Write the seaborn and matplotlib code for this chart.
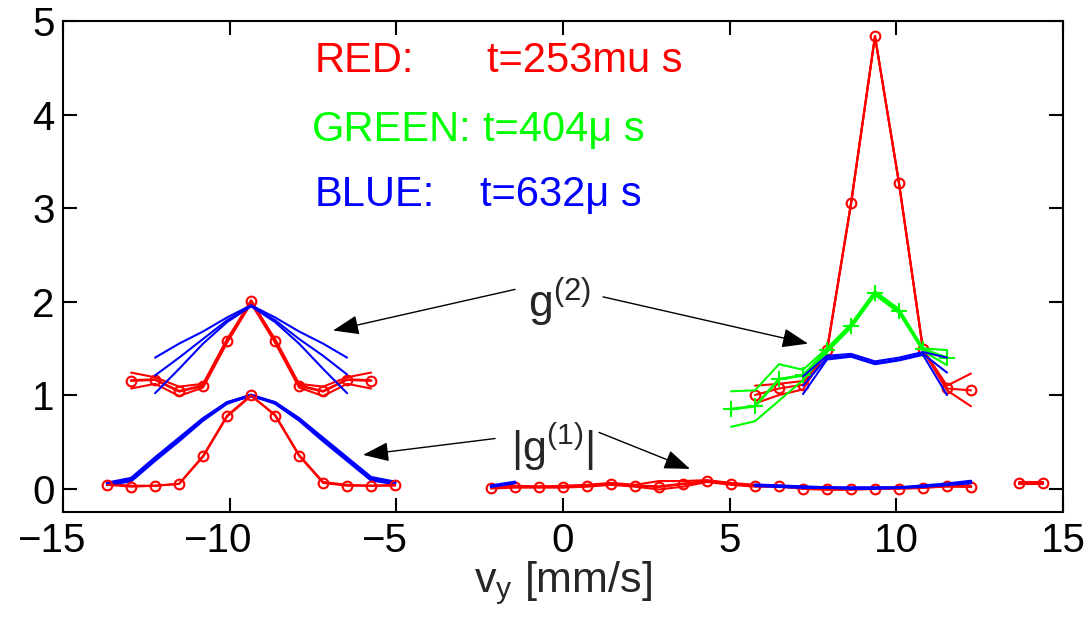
import numpy as np
import pandas as pd
import matplotlib
matplotlib.use("Agg")
import matplotlib.pyplot as plt
import matplotlib.transforms as mtransforms
import seaborn as sns

# ---------------- data ----------------
# left |g1| cluster
x_g1_left = [-13.68, -12.96, -12.24, -11.52, -10.80, -10.08, -9.36, -8.64, -7.92, -7.20, -6.48, -5.76, -5.04]
red_g1_left_a = [0.04, 0.02, 0.03, 0.05, 0.35, 0.78, 1.00, 0.78, 0.35, 0.06, 0.03, 0.03, 0.04]
red_g1_left_b = [0.05, 0.03, 0.03, 0.05, 0.34, 0.77, 0.99, 0.79, 0.36, 0.07, 0.04, 0.03, 0.03]
blue_g1_left_a = [0.04, 0.08, 0.30, 0.51, 0.73, 0.91, 1.00, 0.91, 0.73, 0.51, 0.30, 0.09, 0.05]
blue_g1_left_b = [0.05, 0.09, 0.31, 0.52, 0.74, 0.92, 1.00, 0.92, 0.74, 0.52, 0.31, 0.10, 0.06]
blue_g1_left_c = [0.06, 0.11, 0.33, 0.54, 0.75, 0.92, 0.99, 0.92, 0.75, 0.54, 0.33, 0.12, 0.07]

# left g2 cluster
x_g2_left = [-12.96, -12.24, -11.52, -10.80, -10.08, -9.36, -8.64, -7.92, -7.20, -6.48, -5.76]
red_g2_left_a = [1.155, 1.165, 1.04, 1.10, 1.58, 2.01, 1.58, 1.10, 1.04, 1.165, 1.155]
red_g2_left_b = [1.24, 1.19, 1.09, 1.12, 1.60, 1.99, 1.60, 1.12, 1.09, 1.19, 1.24]
red_g2_left_c = [1.07, 1.12, 0.99, 1.08, 1.56, 1.98, 1.56, 1.08, 0.99, 1.12, 1.07]
x_g2_left_blue = [-12.24, -11.52, -10.80, -10.08, -9.36, -8.64, -7.92, -7.20, -6.48]
blue_g2_left_a = [1.40, 1.55, 1.68, 1.83, 1.96, 1.83, 1.68, 1.55, 1.40]
blue_g2_left_b = [1.21, 1.40, 1.60, 1.80, 1.95, 1.80, 1.60, 1.42, 1.22]
blue_g2_left_c = [1.02, 1.28, 1.55, 1.78, 1.95, 1.78, 1.55, 1.28, 1.02]

# middle / right |g1|
x_g1_mid = [-2.16, -1.44, -0.72, 0.00, 0.72, 1.44, 2.16, 2.88, 3.60, 4.32, 5.04,
            5.76, 6.48, 7.20, 7.92, 8.64, 9.36, 10.08, 10.80, 11.52, 12.24]
red_g1_mid_a = [0.01, 0.02, 0.02, 0.02, 0.03, 0.05, 0.03, 0.02, 0.05, 0.08, 0.05,
                0.03, 0.03, 0.00, -0.01, -0.01, 0.00, 0.00, 0.01, 0.03, 0.02]
red_g1_mid_b = [0.02, 0.03, 0.02, 0.03, 0.04, 0.06, 0.04, 0.08, 0.08, 0.09, 0.06,
                0.04, 0.02, 0.01, 0.00, 0.00, 0.01, 0.01, 0.02, 0.03, 0.03]
red_g1_mid_c = [0.00, 0.01, 0.01, 0.01, 0.02, 0.04, 0.02, -0.01, 0.02, 0.07, 0.04,
                0.02, 0.02, 0.00, 0.00, 0.00, 0.00, 0.01, 0.01, 0.02, 0.02]
x_g1_blue_a = [-2.16, -1.44]
blue_g1_mid_a = [0.02, 0.06]
blue_g1_mid_b = [0.03, 0.07]
x_g1_blue_b = [5.76, 6.48, 7.20, 7.92, 8.64, 9.36, 10.08, 10.80, 11.52, 12.24]
blue_g1_right_a = [0.03, 0.02, 0.01, 0.01, 0.00, 0.00, 0.01, 0.02, 0.04, 0.06]
blue_g1_right_b = [0.04, 0.03, 0.02, 0.01, 0.01, 0.01, 0.01, 0.03, 0.05, 0.08]
x_g1_far = [13.68, 14.40]
red_g1_far_a = [0.06, 0.06]
red_g1_far_b = [0.07, 0.07]
red_g1_far_c = [0.05, 0.05]

# right g2 cluster
x_g2_right_red = [5.76, 6.48, 7.20, 7.92, 8.64, 9.36, 10.08, 10.80, 11.52, 12.24]
red_g2_right_a = [1.00, 1.07, 1.11, 1.48, 3.05, 4.84, 3.27, 1.49, 1.07, 1.05]
red_g2_right_b = [1.10, 1.12, 1.15, 1.48, 3.05, 4.84, 3.27, 1.49, 1.10, 1.23]
red_g2_right_c = [0.91, 1.00, 1.06, 1.47, 3.04, 4.83, 3.26, 1.48, 1.05, 0.88]
x_g2_right_green = [5.04, 5.76, 6.48, 7.20, 7.92, 8.64, 9.36, 10.08, 10.80, 11.52]
green_g2_a = [0.85, 0.88, 1.17, 1.21, 1.48, 1.74, 2.09, 1.90, 1.49, 1.40]
green_g2_b = [1.04, 1.05, 1.33, 1.27, 1.50, 1.76, 2.11, 1.92, 1.50, 1.48]
green_g2_c = [0.66, 0.72, 0.94, 1.16, 1.46, 1.72, 2.07, 1.88, 1.47, 1.32]
x_g2_right_blue = [7.20, 7.92, 8.64, 9.36, 10.08, 10.80, 11.52]
blue_g2_right_a = [1.01, 1.38, 1.41, 1.33, 1.37, 1.43, 1.00]
blue_g2_right_b = [1.10, 1.40, 1.42, 1.34, 1.38, 1.44, 1.24]
blue_g2_right_c = [1.20, 1.42, 1.44, 1.36, 1.40, 1.46, 1.40]

x_ticks = [-15, -10, -5, 0, 5, 10, 15]
y_ticks = [0, 1, 2, 3, 4, 5]
legend_labels = ["RED:", "GREEN:", "BLUE:"]
legend_times = ["t=253mu s", "t=404\u03bc s", "t=632\u03bc s"]

RED, GREEN, BLUE = "#ff0000", "#00ff00", "#0000ff"

# ---------------- style ----------------
sns.set_style("ticks")
plt.rcParams["font.family"] = ["Liberation Sans", "DejaVu Sans"]
plt.rcParams["mathtext.fontset"] = "custom"
plt.rcParams["mathtext.rm"] = "Liberation Sans"
plt.rcParams["mathtext.it"] = "Liberation Sans:italic"
plt.rcParams["axes.linewidth"] = 1.5

fig = plt.figure(figsize=(10.88, 6.19), dpi=100)
ax = fig.add_axes([0.058, 0.173, 0.919, 0.793])


def line(x, y, color, lw=1.5, marker=None, ms=7, zorder=2):
    kw = dict(x=x, y=y, color=color, lw=lw, estimator=None, sort=False, ax=ax, zorder=zorder)
    if marker is not None:
        kw.update(marker=marker, ms=ms, mfc="none", mec=color, mew=1.5)
    sns.lineplot(**kw)


# left |g1|
line(x_g1_left, red_g1_left_b, RED, lw=1.5)
line(x_g1_left, blue_g1_left_a, BLUE, lw=2)
line(x_g1_left, blue_g1_left_b, BLUE, lw=2)
line(x_g1_left, blue_g1_left_c, BLUE, lw=2)
line(x_g1_left, red_g1_left_a, RED, lw=1.5, marker="o")

# left g2
line(x_g2_left, red_g2_left_b, RED, lw=1.5)
line(x_g2_left, red_g2_left_c, RED, lw=1.5)
line(x_g2_left, red_g2_left_a, RED, lw=2, marker="o")
line(x_g2_left_blue, blue_g2_left_a, BLUE, lw=1.5)
line(x_g2_left_blue, blue_g2_left_b, BLUE, lw=1.5)
line(x_g2_left_blue, blue_g2_left_c, BLUE, lw=1.5)

# middle |g1|
line(x_g1_mid, red_g1_mid_b, RED, lw=1.5)
line(x_g1_mid, red_g1_mid_c, RED, lw=1.5)
line(x_g1_mid, red_g1_mid_a, RED, lw=2, marker="o")
line(x_g1_blue_a, blue_g1_mid_a, BLUE, lw=2)
line(x_g1_blue_a, blue_g1_mid_b, BLUE, lw=2)
line(x_g1_blue_b, blue_g1_right_a, BLUE, lw=2)
line(x_g1_blue_b, blue_g1_right_b, BLUE, lw=2)
line(x_g1_far, red_g1_far_b, RED, lw=1.5)
line(x_g1_far, red_g1_far_c, RED, lw=1.5)
line(x_g1_far, red_g1_far_a, RED, lw=1.5, marker="o")

# right g2
line(x_g2_right_red, red_g2_right_b, RED, lw=1.5)
line(x_g2_right_red, red_g2_right_c, RED, lw=1.5)
line(x_g2_right_red, red_g2_right_a, RED, lw=1.5, marker="o")
line(x_g2_right_green, green_g2_b, GREEN, lw=1.5)
line(x_g2_right_green, green_g2_c, GREEN, lw=1.5)
line(x_g2_right_green, green_g2_a, GREEN, lw=2, marker="+", ms=11)
line(x_g2_right_blue, blue_g2_right_a, BLUE, lw=1.5)
line(x_g2_right_blue, blue_g2_right_b, BLUE, lw=1.5)
line(x_g2_right_blue, blue_g2_right_c, BLUE, lw=1.5)

# ---------------- axes ----------------
ax.set_xlim(-15, 15)
ax.set_ylim(-0.25, 5)
ax.set_xticks(x_ticks)
ax.set_yticks(y_ticks)
ax.set_xticklabels(["\u2212" + str(-t) if t < 0 else str(t) for t in x_ticks])
ax.tick_params(direction="in", length=10, width=1.5, labelsize=29,
               top=True, right=True, colors="black")
ax.tick_params(axis="x", pad=7)
ax.tick_params(axis="y", pad=6)
# MATLAB centres the digits, letting the minus sign hang to the left
shift = mtransforms.ScaledTranslation(-12 / 100, 0, fig.dpi_scale_trans)
for t, lab in zip(x_ticks, ax.get_xticklabels()):
    if t < 0:
        lab.set_transform(lab.get_transform() + shift)
for s in ax.spines.values():
    s.set_visible(True)
    s.set_linewidth(1.5)
    s.set_color("black")
ax.set_xlabel(r"$\mathregular{v_y}$ [mm/s]", fontsize=31, labelpad=0)
ax.set_ylabel("")

# ---------------- legend text ----------------
colors = [RED, GREEN, BLUE]
ys = [4.45, 3.72, 3.02]
xs_lab = [-7.44, -7.54, -7.44]
xs_t = [-2.29, -2.40, -2.50]
for lab, tt, c, yy, xl, xt in zip(legend_labels, legend_times, colors, ys, xs_lab, xs_t):
    ax.text(xl, yy, lab, color=c, fontsize=30, ha="left", va="baseline")
    ax.text(xt, yy, tt, color=c, fontsize=30, ha="left", va="baseline")

# ---------------- annotations ----------------
ax.text(-1.05, 1.83, r"$\mathregular{g^{(2)}}$", fontsize=32, ha="left", va="baseline")
ax.text(-1.55, 0.29, r"$\mathregular{|g^{(1)}|}$", fontsize=31, ha="left", va="baseline")
ap = dict(arrowstyle="-|>,head_length=0.8,head_width=0.3", color="black", lw=1,
          shrinkA=0, shrinkB=0, mutation_scale=20)
ax.annotate("", xy=(-6.9, 1.69), xytext=(-1.44, 2.13), arrowprops=ap)
ax.annotate("", xy=(7.35, 1.55), xytext=(1.2, 2.05), arrowprops=ap)
ax.annotate("", xy=(-6.0, 0.36), xytext=(-2.04, 0.535), arrowprops=ap)
ax.annotate("", xy=(3.81, 0.21), xytext=(1.08, 0.60), arrowprops=ap)

fig.savefig("out.png", dpi=100, facecolor="white")
